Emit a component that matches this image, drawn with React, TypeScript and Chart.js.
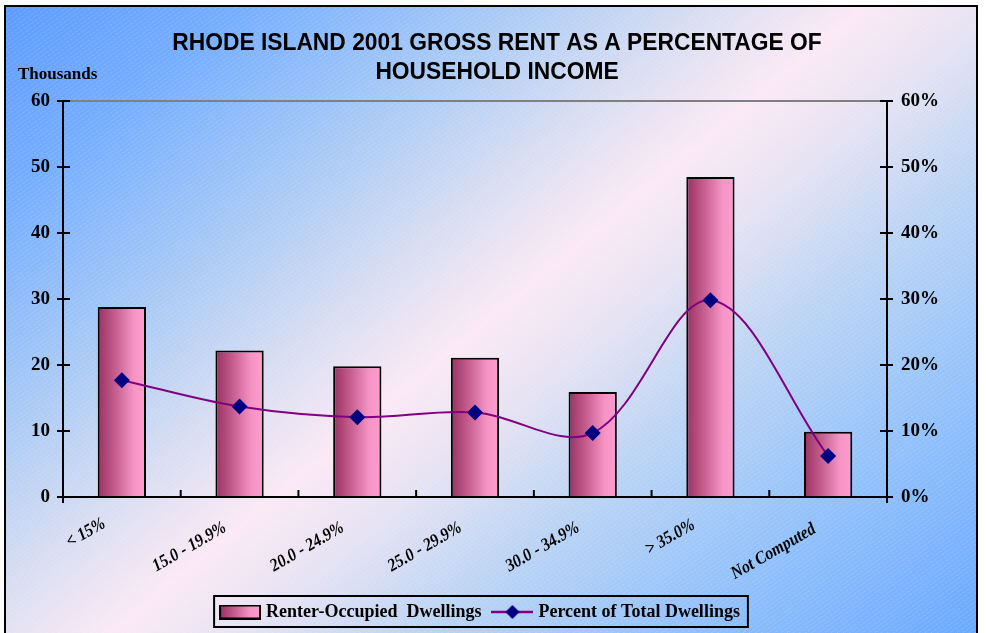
import React, { useEffect, useRef } from 'react';
import { Chart, registerables } from 'chart.js';

Chart.register(...registerables);

const categories = ['< 15%', '15.0 - 19.9%', '20.0 - 24.9%', '25.0 - 29.9%', '30.0 - 34.9%', '> 35.0%', 'Not Computed'];
const renterOccupied = [28.8, 22.2, 19.8, 21.1, 15.9, 48.5, 9.9];
const percentOfTotal = [17.7, 13.7, 12.1, 12.8, 9.7, 29.8, 6.2];
const titleLines = ['RHODE ISLAND 2001 GROSS RENT AS A PERCENTAGE OF', 'HOUSEHOLD INCOME'];
const leftAxisLabel = 'Thousands';
const seriesNames = ['Renter-Occupied  Dwellings', 'Percent of Total Dwellings'];
const axisMax = 60;
const axisStep = 10;

const SERIF = '"Liberation Serif", "Times New Roman", serif';
const SANS = '"Liberation Sans", Arial, sans-serif';

function barGradient(ctx: CanvasRenderingContext2D, x0: number, x1: number) {
  const g = ctx.createLinearGradient(x0, 0, x1, 0);
  g.addColorStop(0, '#983262');
  g.addColorStop(0.35, '#c45c8e');
  g.addColorStop(0.75, '#f695c5');
  g.addColorStop(1, '#fd9dcd');
  return g;
}

function makeBarSwatch() {
  const c = document.createElement('canvas');
  c.width = 42; c.height = 15;
  const x = c.getContext('2d')!;
  x.fillStyle = barGradient(x, 1, 41);
  x.fillRect(1, 1, 40, 13);
  x.strokeStyle = '#000';
  x.lineWidth = 2;
  x.strokeRect(1, 1, 40, 13);
  return c;
}

function makeLineSwatch() {
  const c = document.createElement('canvas');
  c.width = 42; c.height = 16;
  const x = c.getContext('2d')!;
  x.strokeStyle = '#800080';
  x.lineWidth = 2.5;
  x.beginPath(); x.moveTo(0, 8); x.lineTo(42, 8); x.stroke();
  x.fillStyle = '#000080';
  x.beginPath(); x.moveTo(21, 1); x.lineTo(28, 8); x.lineTo(21, 15); x.lineTo(14, 8); x.closePath(); x.fill();
  return c;
}

const SWATCH_OVERFLOW = 4;

const backgroundPlugin = {
  id: 'bgFrame',
  beforeDraw(chart: any) {
    const { ctx, width, height } = chart;
    ctx.save();
    ctx.fillStyle = '#ffffff';
    ctx.fillRect(0, 0, width, height);
    const fx0 = 5, fy0 = 6, fx1 = 977, fy1 = height + 4;
    const g = ctx.createLinearGradient(135, -115, 851, 747);
    g.addColorStop(0, '#5c9aff');
    g.addColorStop(0.15, '#77afff');
    g.addColorStop(0.3, '#abcbf5');
    g.addColorStop(0.42, '#dcdff2');
    g.addColorStop(0.5, '#fbe9f5');
    g.addColorStop(0.58, '#e4e2f3');
    g.addColorStop(0.67, '#bed5f4');
    g.addColorStop(0.8, '#98c4fa');
    g.addColorStop(1, '#69a8ff');
    ctx.fillStyle = g;
    ctx.fillRect(fx0, fy0, fx1 - fx0, fy1 - fy0);
    ctx.beginPath();
    ctx.rect(fx0, fy0, fx1 - fx0, fy1 - fy0);
    ctx.clip();
    ctx.translate(width / 2, height / 2);
    ctx.rotate(-35 * Math.PI / 180);
    ctx.strokeStyle = 'rgba(255,255,255,0.22)';
    ctx.lineWidth = 0.7;
    ctx.setLineDash([3, 1.5]);
    ctx.beginPath();
    for (let y = -800; y < 800; y += 3.6) {
      ctx.moveTo(-800, y);
      ctx.lineTo(800, y);
    }
    ctx.stroke();
    ctx.restore();
    ctx.save();
    ctx.strokeStyle = '#000';
    ctx.lineWidth = 2;
    ctx.strokeRect(fx0, fy0, fx1 - fx0, fy1 - fy0);
    // title (slightly condensed like the original)
    ctx.fillStyle = '#000';
    ctx.font = `bold 24px ${SANS}`;
    ctx.textAlign = 'center';
    ctx.textBaseline = 'middle';
    titleLines.forEach((t, i) => {
      ctx.save();
      ctx.translate(497, 43 + i * 29);
      ctx.scale(0.95, 1);
      ctx.fillText(t, 0, 0);
      ctx.restore();
    });
    ctx.font = `bold 17px ${SERIF}`;
    ctx.textAlign = 'left';
    ctx.textBaseline = 'alphabetic';
    ctx.fillText(leftAxisLabel, 18, 79);
    ctx.restore();
  },
  beforeDatasetsDraw(chart: any) {
    const meta = chart.getDatasetMeta(0);
    meta.data.forEach((el: any) => {
      const { x, width } = el.getProps(['x', 'width'], true);
      el.options.backgroundColor = barGradient(chart.ctx, x - width / 2, x + width / 2);
    });
  },
  afterDatasetsDraw(chart: any) {
    const { ctx, chartArea, scales } = chart;
    const { left, right, top, bottom } = chartArea;
    ctx.save();
    ctx.lineCap = 'butt';
    ctx.strokeStyle = '#808080';
    ctx.lineWidth = 2;
    ctx.beginPath(); ctx.moveTo(left + 7, top); ctx.lineTo(right - 7, top); ctx.stroke();
    ctx.strokeStyle = '#000';
    ctx.lineWidth = 2;
    ctx.beginPath();
    ctx.moveTo(left, top); ctx.lineTo(left, bottom + 6);
    ctx.moveTo(right, top); ctx.lineTo(right, bottom + 6);
    ctx.moveTo(left - 6, bottom); ctx.lineTo(right + 6, bottom);
    scales.y.ticks.forEach((t: any) => {
      const y = scales.y.getPixelForValue(t.value);
      ctx.moveTo(left - 6, y); ctx.lineTo(left + 7, y);
    });
    scales.y1.ticks.forEach((t: any) => {
      const y = scales.y1.getPixelForValue(t.value);
      ctx.moveTo(right - 7, y); ctx.lineTo(right + 6, y);
    });
    for (let i = 1; i < categories.length; i++) {
      const x = scales.x.getPixelForValue(i - 0.5);
      ctx.moveTo(x, bottom); ctx.lineTo(x, bottom - 7);
    }
    ctx.stroke();

    // rotated category labels (Excel-like placement: centre pushed down-left by half the label length)
    const ang = -30 * Math.PI / 180;
    const sx = 0.88;
    ctx.fillStyle = '#000';
    ctx.font = `italic bold 18px ${SERIF}`;
    ctx.textAlign = 'center';
    ctx.textBaseline = 'middle';
    scales.x.getLabels().forEach((lab: string, i: number) => {
      const x = scales.x.getPixelForValue(i);
      const w = ctx.measureText(lab).width * sx;
      const d = (w / 2 + 30) * Math.SQRT1_2;
      ctx.save();
      ctx.translate(x - d, bottom + d);
      ctx.rotate(ang);
      ctx.scale(sx, 1);
      ctx.fillText(lab, 0, 0);
      ctx.restore();
    });
    ctx.restore();
  },
  afterDraw(chart: any) {
    const lg = chart.legend;
    if (!lg || !lg.legendHitBoxes || !lg.legendHitBoxes.length) return;
    const hb = lg.legendHitBoxes;
    const x0 = Math.min(...hb.map((h: any) => h.left)) - SWATCH_OVERFLOW - 5;
    const x1 = Math.max(...hb.map((h: any) => h.left + h.width)) + 8;
    const y0 = Math.min(...hb.map((h: any) => h.top)) - 7;
    const y1 = Math.max(...hb.map((h: any) => h.top + h.height)) + 6;
    const ctx = chart.ctx;
    ctx.save();
    ctx.strokeStyle = '#000';
    ctx.lineWidth = 2;
    ctx.strokeRect(x0, y0, x1 - x0, y1 - y0);
    ctx.restore();
  },
};

export default function App() {
  const ref = useRef<HTMLCanvasElement | null>(null);
  useEffect(() => {
    if (!ref.current) return;
    const barSwatch = makeBarSwatch();
    const lineSwatch = makeLineSwatch();
    const tickFont = { family: SERIF, size: 19, weight: 'bold' as const };
    const chart = new Chart(ref.current, {
      type: 'bar',
      data: {
        labels: categories,
        datasets: [
          {
            type: 'bar',
            label: seriesNames[0],
            data: renterOccupied,
            yAxisID: 'y',
            backgroundColor: () => '#e07aaa',
            borderColor: '#000',
            borderWidth: 2,
            barPercentage: 0.41,
            categoryPercentage: 1,
            order: 2,
          },
          {
            type: 'line',
            label: seriesNames[1],
            data: percentOfTotal,
            yAxisID: 'y1',
            borderColor: '#800080',
            borderWidth: 2,
            tension: 0.35,
            pointStyle: 'rectRot',
            pointRadius: 8,
            pointBackgroundColor: '#000080',
            pointBorderColor: '#000080',
            pointBorderWidth: 0,
            order: 1,
          } as any,
        ],
      },
      options: {
        responsive: false,
        animation: false,
        layout: { padding: { top: 101, left: 0, right: 23, bottom: 2 } },
        plugins: {
          title: { display: false },
          tooltip: { enabled: false },
          legend: {
            display: true,
            position: 'bottom',
            labels: {
              usePointStyle: true,
              pointStyleWidth: 42 - 2 * SWATCH_OVERFLOW,
              color: '#000',
              padding: 14,
              font: { family: SERIF, size: 18, weight: 'bold' },
              generateLabels: (c: any) =>
                c.data.datasets.map((d: any, i: number) => ({
                  text: d.label,
                  pointStyle: i === 0 ? barSwatch : lineSwatch,
                  fillStyle: 'transparent',
                  strokeStyle: 'transparent',
                  lineWidth: 0,
                  datasetIndex: i,
                  hidden: false,
                  fontColor: '#000',
                })),
            },
          },
        },
        scales: {
          x: {
            offset: true,
            grid: { display: false, drawTicks: false },
            border: { display: false },
            afterFit: (s: any) => { s.height = 92; },
            ticks: { display: false, autoSkip: false },
          },
          y: {
            position: 'left',
            min: 0,
            max: axisMax,
            grid: { display: false, drawTicks: false },
            border: { display: false },
            afterFit: (s: any) => { s.width = 63; },
            ticks: { stepSize: axisStep, padding: 13, color: '#000', font: tickFont },
          },
          y1: {
            position: 'right',
            min: 0,
            max: axisMax,
            grid: { display: false, drawTicks: false },
            border: { display: false },
            afterFit: (s: any) => { s.width = 76; },
            ticks: { stepSize: axisStep, padding: 14, color: '#000', font: tickFont, callback: (v: any) => v + '%' },
          },
        },
      },
      plugins: [backgroundPlugin],
    });
    return () => chart.destroy();
  }, []);
  return (
    <canvas
      ref={ref}
      width={986}
      height={633}
      style={{ position: 'absolute', left: 0, top: 0, width: 986, height: 633, display: 'block' }}
    />
  );
}
